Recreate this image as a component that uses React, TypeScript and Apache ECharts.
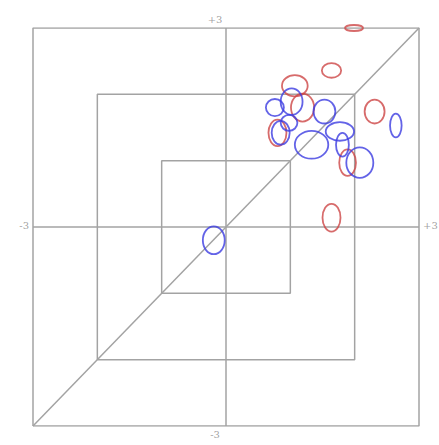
import React, { useEffect, useRef } from "react";
import * as echarts from "echarts";

// axis range and end labels
const axisMin = -3;
const axisMax = 3;
const squareHalfSizes = [1, 2, 3];
const endLabels = [
  { x: -3, y: 0, text: "-3", pos: "left" },
  { x: 3, y: 0, text: "+3", pos: "right" },
  { x: 0, y: 3, text: "+3", pos: "top" },
  { x: 0, y: -3, text: "-3", pos: "bottom" },
];

// ellipses: [x, y, rx, ry]
const redEllipses = [
  [1.99, 3.0, 0.14, 0.045],
  [1.64, 2.36, 0.15, 0.11],
  [1.07, 2.13, 0.2, 0.16],
  [1.19, 1.8, 0.18, 0.21],
  [2.31, 1.74, 0.155, 0.18],
  [0.8, 1.42, 0.14, 0.2],
  [1.89, 0.97, 0.13, 0.2],
  [1.64, 0.14, 0.14, 0.21],
];
const blueEllipses = [
  [0.76, 1.8, 0.14, 0.13],
  [1.02, 1.89, 0.17, 0.2],
  [1.53, 1.74, 0.17, 0.18],
  [2.64, 1.53, 0.09, 0.18],
  [0.85, 1.42, 0.14, 0.18],
  [1.33, 1.24, 0.26, 0.21],
  [1.77, 1.44, 0.22, 0.14],
  [1.81, 1.24, 0.1, 0.18],
  [2.08, 0.97, 0.21, 0.23],
  [-0.19, -0.2, 0.17, 0.21],
  [0.98, 1.57, 0.13, 0.12],
];

const lineColor = "#a3a3a3";

function lineSeries(data: number[][]) {
  return {
    type: "line",
    data,
    symbol: "none",
    silent: true,
    lineStyle: { color: lineColor, width: 1.5 },
    z: 1,
  };
}

function ellipseSeries(data: number[][], color: string) {
  return {
    type: "custom",
    data,
    clip: false,
    silent: true,
    encode: { x: 0, y: 1 },
    z: 3,
    renderItem: (_p: any, api: any) => {
      const c = api.coord([api.value(0), api.value(1)]);
      const s = api.size([api.value(2), api.value(3)]);
      return {
        type: "ellipse",
        shape: { cx: c[0], cy: c[1], rx: s[0], ry: s[1] },
        style: { fill: "none", stroke: color, lineWidth: 1.8 },
      };
    },
  };
}

export default function App() {
  const ref = useRef<HTMLDivElement>(null);
  useEffect(() => {
    if (!ref.current) return;
    const chart = echarts.init(ref.current, undefined, { renderer: "svg" });
    const squares = squareHalfSizes.map((h) =>
      lineSeries([
        [-h, -h],
        [h, -h],
        [h, h],
        [-h, h],
        [-h, -h],
      ])
    );
    chart.setOption({
      animation: false,
      backgroundColor: "#ffffff",
      grid: { left: 33, right: 20, top: 28, bottom: 19 },
      xAxis: { type: "value", min: axisMin, max: axisMax, show: false },
      yAxis: { type: "value", min: axisMin, max: axisMax, show: false },
      series: [
        ...squares,
        lineSeries([
          [axisMin, 0],
          [axisMax, 0],
        ]),
        lineSeries([
          [0, axisMin],
          [0, axisMax],
        ]),
        lineSeries([
          [axisMin, axisMin],
          [axisMax, axisMax],
        ]),
        ellipseSeries(redEllipses, "rgba(205,70,70,0.8)"),
        ellipseSeries(blueEllipses, "rgba(60,60,225,0.8)"),
        {
          type: "scatter",
          silent: true,
          symbolSize: 0,
          data: endLabels.map((l) => ({
            value: [l.x, l.y],
            label: {
              show: true,
              position: l.pos,
              formatter: l.text,
              distance: l.pos === "top" ? 4 : l.pos === "bottom" ? 3 : 4,
              offset: l.pos === "top" || l.pos === "bottom" ? [-11, 0] : [0, -2],
              color: "#888",
              fontSize: 10,
              fontFamily: "DejaVu Serif",
            },
          })),
        },
      ],
    });
    return () => chart.dispose();
  }, []);
  return (
    <div
      ref={ref}
      style={{ position: "fixed", left: 0, top: 0, width: 439, height: 445, background: "#fff" }}
    />
  );
}
